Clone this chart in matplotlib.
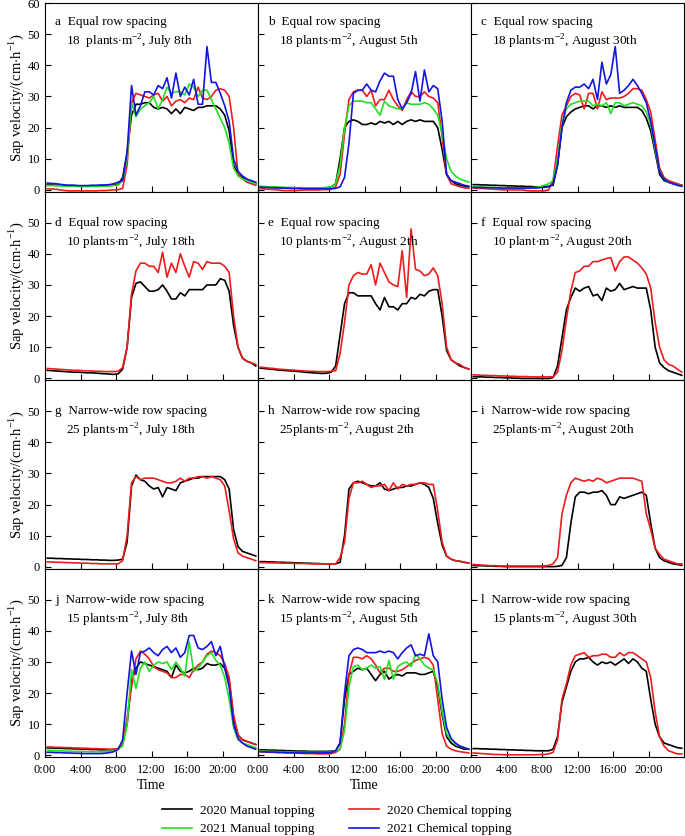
""" Diurnal sap velocity under manual and chemical topping, 12 panels. """

import matplotlib
matplotlib.use('Agg')
import matplotlib.pyplot as plt
import numpy as np
from matplotlib.lines import Line2D

plt.rcParams['font.family'] = ['Liberation Serif', 'DejaVu Serif']
plt.rcParams['mathtext.fontset'] = 'custom'
plt.rcParams['mathtext.rm'] = 'Liberation Serif'

# half-hourly means, 0:15 ... 23:45
hours = np.arange(0.25, 24, 0.5)

# ---- a: equal row spacing, 18 plants, July 8th
a_black = [1.6,1.6,1.5,1.5,1.4,1.4,1.4,1.3,1.3,1.3,1.3,1.3,1.3,1.4,1.5,1.6,
           1.8,4,12,24,27.5,27.5,28,28,26.5,26,26.5,26,24.5,26,24.5,26.5,
           26,25.5,26.5,26.5,27,27,27,26,24,19,8,5,4,3,2.5,2]
a_red = [0.4,0.3,0.2,0.0,-0.2,-0.3,-0.3,-0.3,-0.3,-0.3,-0.3,-0.3,-0.2,-0.2,-0.1,0.0,
         0.1,0.5,8,28,31,30.5,30,29.5,30.5,31,28.5,30,27,28.5,29,28,
         29.5,29,33,29.5,29,30,32,32.5,32,30,20,5,3.5,2.5,2,1.5]
a_green = [1.4,1.4,1.3,1.3,1.2,1.2,1.2,1.1,1.1,1.1,1.1,1.1,1.2,1.2,1.3,1.4,
           1.6,3,10,28,23.5,26,27,28,30,26,29,33,31,31.5,31.5,30.5,
           34,33,30,32,32,29,26,23,20,15,7,4.5,3.5,3,2.5,2]
a_blue = [2.2,2.1,2.0,1.8,1.6,1.5,1.5,1.4,1.4,1.4,1.5,1.5,1.6,1.6,1.7,2.0,
          2.5,3,12,33.5,24,27,31.5,31.5,30.5,33.5,32.5,36,29.5,37.5,30,33,
          30.5,35.5,27.5,27.5,46,34.5,34.5,31,27,22,10,6,4.5,3.5,3,2.5]

# ---- b: equal row spacing, 18 plants, August 5th
b_black = [0.9,0.9,0.8,0.8,0.7,0.7,0.6,0.6,0.6,0.5,0.5,0.5,0.5,0.5,0.6,0.7,
           1,2,10,20,22,22.5,22,21,21,21.5,21,22,21.5,22,21,22,
           21,22,22.5,22,22.5,22,22,22,20,13,5,3,2,1.5,1.2,1]
b_red = [0.4,0.3,0.2,0.1,0,-0.2,-0.2,-0.2,-0.2,-0.1,0,0,0,0,0.1,0.1,
         0.2,1,5,18,29,31.5,32,32,30,32,27,29,29,32,29,27,
         25.5,29,31.5,30,30,31.5,30,29.5,28,17,5,2,1.5,1,0.7,0.5]
b_green = [1.2,1.1,1.0,1.0,0.9,0.9,0.8,0.8,0.7,0.7,0.7,0.6,0.6,0.6,0.7,0.8,
           1,2,8,20,27,28.5,28.5,28.5,28,28,26,24,28.5,27,26.5,26,
           26,28,27.5,27.5,27.5,28,27.5,26,24,18,10,6,4.5,3.5,3,2.5]
b_blue = [0.9,0.8,0.8,0.7,0.7,0.6,0.6,0.5,0.5,0.5,0.4,0.4,0.4,0.4,0.4,0.4,
          0.4,0.5,1,4,15,31,32,32,34,32,31.5,35,37.5,36.5,36.5,29,
          26,28,31,38,28.5,38.5,31.5,33.5,32.5,22,5,3,2.5,2,1.5,1.2]

# ---- c: equal row spacing, 18 plants, August 30th
c_black = [1.7,1.7,1.6,1.6,1.5,1.5,1.4,1.4,1.3,1.3,1.2,1.2,1.1,1.1,1.0,1.0,
           1.0,1.2,1.5,8,20,23.5,25,26,26.5,27,27,26,27,27,26.5,27,
           26.5,27,26.5,26.5,26.5,26.5,25.5,23,19,12,5,3,2.5,2,1.8,1.5]
c_red = [0.6,0.5,0.5,0.4,0.3,0.2,0.1,0,0,0,0,0,-0.2,-0.3,-0.3,-0.3,
         -0.3,0,3,14,24,27,30,31,30.5,26,31,31,26,31.5,29,29.5,
         29.5,29.5,30,31,32.5,32.5,32,29,25,16,7,4,3,2.5,2,1.5]
c_green = [1.0,1.0,0.9,0.9,0.8,0.8,0.7,0.7,0.6,0.6,0.6,0.6,0.6,0.7,0.8,1.0,
           1.5,2,3,10,21,26,27.5,28,28.5,28.5,28.5,27,27.5,27,28,24.5,
           28,28,27,27.5,28,27.5,27,25,21,13,6,3.5,2.5,2,1.5,1.2]
c_blue = [0.8,0.8,0.8,0.7,0.7,0.7,0.6,0.6,0.6,0.6,0.6,0.6,0.6,0.6,0.6,0.7,
          0.8,1,2,8,20,28,32,33,33,34,32.5,35.5,29,41,34,37,
          46,31,32,33.5,35.5,33.5,31,28,22,14,6,3.5,2.5,2,1.5,1.2]

# ---- d: equal row spacing, 10 plants, July 18th
d_black = [2.6,2.5,2.4,2.3,2.2,2.1,2.0,2.0,1.9,1.8,1.8,1.7,1.6,1.5,1.4,1.3,
           1.5,3,10,26,30.5,31,29.5,28,28,28.5,30,28,25.5,25.5,27.5,26.5,
           28.5,28.5,28.5,28.5,30,30,30,32,31.5,28,17,10,6.5,5.5,5,4]
d_red = [3.2,3.1,3.0,2.9,2.8,2.7,2.6,2.6,2.5,2.4,2.4,2.3,2.3,2.2,2.2,2.2,
         2.3,3.5,10,27,34.5,37,37,36,36,34,40.5,32.5,37,34,40,36,
         32.5,37.5,37,35,37.5,37,37,37,36,34,20,10,6.5,5.5,5,4.5]

# ---- e: equal row spacing, 10 plants, August 2th
e_black = [3.3,3.2,3.0,2.9,2.7,2.6,2.5,2.4,2.3,2.2,2.0,1.9,1.8,1.7,1.6,1.7,
           2,4,14,24,27.5,27.5,26.5,26.5,26.5,26.5,24,22,26,23,23,22,
           24,24,26,25.5,27,26.5,28,28.5,28.5,20,9,6,5,4,3.5,3]
e_red = [3.6,3.5,3.3,3.2,3.0,2.9,2.8,2.7,2.6,2.5,2.4,2.3,2.3,2.2,2.2,2.2,
         2.3,2.5,8,18,30,33,34,33.5,33.5,36.5,30,37,34,31,30,29.5,
         41,26,48,35,34.5,33,33.5,35.5,33,24,10,6,5,4.5,3.5,3]

# ---- f: equal row spacing, 10 plants, August 20th
f_black = [0.6,0.5,0.5,0.4,0.4,0.3,0.3,0.2,0.2,0.1,0.1,0,0,0,0,0,
           0,0,0.3,4,13,22,26,29,28,29,29.5,26.5,27,25,29,28,
           28.5,30.5,28.5,29,29.5,29,29,29,22,10,5,3.5,2.5,2,1.5,1]
f_red = [1.2,1.1,1.0,1.0,0.9,0.9,0.8,0.8,0.7,0.7,0.6,0.6,0.6,0.5,0.5,0.5,
         0.5,0.5,0.5,2,9,19,28,34,34.5,36,36,37.5,37.5,38,38.5,38.8,
         34.5,37.5,39,39,38,37,35.5,33.5,29,18,10,6,4.5,4,3,2]

# ---- g: narrow-wide row spacing, 25 plants, July 18th
g_black = [2.8,2.8,2.7,2.7,2.6,2.6,2.5,2.5,2.4,2.4,2.3,2.3,2.2,2.2,2.1,2.1,
           2.2,2.5,8,26,29.5,28,27.5,26,25,25.5,22.5,25.5,25,24.5,27,27.5,
           28,28.5,28.5,29,29,29,29,29,28,25,12,6.5,5,4.5,4,3.5]
g_red = [1.6,1.6,1.5,1.5,1.4,1.4,1.3,1.3,1.2,1.2,1.1,1.1,1.0,1.0,1.0,1.0,
         1.0,2,10,27,29,28,28.5,28.5,28.5,28,27.5,27,27,27.5,28.5,27.5,
         28.5,28.5,29,29,28.5,29,28.5,28,26,18,9,4.5,3.5,3,2.5,2]

# ---- h: narrow-wide row spacing, 25 plants, August 2th
h_black = [1.7,1.7,1.6,1.6,1.5,1.5,1.4,1.4,1.3,1.3,1.2,1.2,1.1,1.1,1.0,1.0,
           1,1,1.5,10,25,27,27.5,27,26.5,26,26,27,25,24.5,25,25.5,
           25.5,26,26,26.5,27,26.5,25.5,22,14,7,3.5,2.5,2,1.8,1.5,1.2]
h_red = [1.4,1.4,1.3,1.3,1.3,1.2,1.2,1.2,1.1,1.1,1.1,1.0,1.0,1.0,1.0,1.0,
         1,1,3,8,22,27,27,27.5,26.5,25.5,26,26,26.5,24.5,27,25,
         26.5,26,26.5,26.5,27,27,26.5,26.5,18,8,3.5,2.5,2,1.8,1.5,1.2]

# ---- i: narrow-wide row spacing, 25 plants, August 20th
i_black = [0.5,0.4,0.4,0.3,0.3,0.2,0.2,0.1,0.1,0.1,0.1,0.1,0.1,0.1,0.1,0.1,
           0.1,0.1,0.1,0.2,0.5,3,14,22.5,24,24,23.5,24,24,24.5,23,20,
           20,22.5,22,22.5,23,23.5,24,23,14,6,3,2,1.5,1,0.8,0.5]
i_red = [0.8,0.7,0.6,0.5,0.4,0.4,0.3,0.3,0.3,0.3,0.3,0.3,0.3,0.3,0.3,0.3,
         0.3,0.5,1,3,17,23,27,28.5,28,27.5,28,27.5,28.5,28,27,27.5,
         28,28.5,28.5,28.5,28.5,28,27.5,17,12,6,4,2.5,2,1.5,1,1]

# ---- j: narrow-wide row spacing, 15 plants, July 8th
j_black = [2.4,2.4,2.3,2.3,2.2,2.2,2.1,2.1,2.0,2.0,1.9,1.9,1.8,1.8,1.8,1.9,
           2.2,4,10,24,28,30,29.5,29,28.5,28,27.5,27,25,29,27,26.5,
           27,28,27.5,28,29.5,29,29,29.5,28,24,12,6.5,5,4.5,4,3.5]
j_red = [2.7,2.7,2.6,2.6,2.5,2.5,2.4,2.4,2.3,2.3,2.2,2.2,2.1,2.1,2.0,2.0,
         2.2,4,12,22,31,33.5,32.5,31,28.5,27.5,27,26.5,25,25,26,26,
         25,27.5,29,30,32.5,33.5,33,32,29.5,25,13,6.5,5,4.5,4,3.5]
j_green = [1.6,1.6,1.5,1.5,1.4,1.4,1.3,1.3,1.3,1.2,1.2,1.2,1.2,1.2,1.3,1.4,
           2,3,10,27.5,21.5,28,30,27,29,30,29.5,30,27.5,30,28,25.5,
           36.5,27,28,30,32,33,30.5,29,25,18,9,5,4,3.5,3,2.5]
j_blue = [1.0,1.0,0.9,0.9,0.8,0.8,0.7,0.7,0.6,0.6,0.6,0.6,0.6,0.7,0.9,1.2,
          2,5,20,33.5,26,33,33.5,34.5,33,32,34,35,33,34.5,31.5,33,
          38.5,38.5,34.5,34,35,36.5,32,35,28,22,10,5.5,4,3,2.5,2]

# ---- k: narrow-wide row spacing, 15 plants, August 5th
k_black = [1.8,1.8,1.7,1.7,1.6,1.6,1.5,1.5,1.4,1.4,1.4,1.3,1.3,1.3,1.3,1.3,
           1.4,1.5,4,18,26,27,28,27.5,28,26,24,26,27,24.5,25.5,26,
           25.5,26.5,26.5,26.5,26,26,26.5,27,22,13,6,4,3,2.5,2,2]
k_red = [1.2,1.1,1.0,1.0,0.9,0.9,0.8,0.8,0.7,0.7,0.6,0.6,0.6,0.5,0.5,0.5,
         0.6,1,2,10,26,31.5,31.5,31,32,31,29,26.5,28,28,27,27,
         27.5,28.5,29.5,30.5,31,31.5,31,29,18,7,3,2,1.5,1.2,1,0.8]
k_green = [1.4,1.4,1.3,1.3,1.2,1.2,1.1,1.1,1.0,1.0,1.0,1.0,1.0,1.0,1.0,1.0,
           1.2,1.5,2,8,22,28.5,29,27.5,28,29,28,28.5,24.5,30.5,24.5,28.5,
           29.5,30,28.5,32.5,31,29,28,27.5,23,14,7,5,3.5,3,2.5,2]
k_blue = [1.2,1.2,1.1,1.1,1.0,1.0,0.9,0.9,0.9,0.8,0.8,0.8,0.8,0.8,0.8,0.9,
          1,1.5,4,20,32,34,34.5,34,33,33,33,33.5,33,33.5,33,31,
          33,34.5,35.5,32,32.5,32,39,32,30,18,9,5.5,4,3,2.5,2]

# ---- l: narrow-wide row spacing, 15 plants, August 30th
l_black = [2.2,2.2,2.1,2.1,2.0,2.0,1.9,1.9,1.8,1.8,1.7,1.7,1.6,1.6,1.5,1.5,
           1.5,1.5,2,6,17,22,27,30,31,31,31.5,30,29,30,29.5,30,
           29,30,31,29.5,31,30,28,27,18,10,6,4,3.5,3,2.5,2.3]
l_red = [0.8,0.7,0.6,0.5,0.4,0.3,0.3,0.2,0.2,0.2,0.2,0.2,0.2,0.2,0.2,0.3,
         0.3,0.5,1,5,18,23,29,32,32.5,33,31.5,32,32,32.5,32.5,31.5,
         31.5,33,32,33,33,32,31,30,25,14,6,3,1.5,1,0.5,0.5]

titles = [
    ('a  Equal row spacing', '18  plants$\\cdot$m$^{-2}$, July 8th'),
    ('b  Equal row spacing', '18 plants$\\cdot$m$^{-2}$, August 5th'),
    ('c  Equal row spacing', '18 plants$\\cdot$m$^{-2}$, August 30th'),
    ('d  Equal row spacing', '10 plants$\\cdot$m$^{-2}$, July 18th'),
    ('e  Equal row spacing', '10 plants$\\cdot$m$^{-2}$, August 2th'),
    ('f  Equal row spacing', '10 plant$\\cdot$m$^{-2}$, August 20th'),
    ('g  Narrow-wide row spacing', '25 plants$\\cdot$m$^{-2}$, July 18th'),
    ('h  Narrow-wide row spacing', '25plants$\\cdot$m$^{-2}$, August 2th'),
    ('i  Narrow-wide row spacing', '25plants$\\cdot$m$^{-2}$, August 20th'),
    ('j  Narrow-wide row spacing', '15 plants$\\cdot$m$^{-2}$, July 8th'),
    ('k  Narrow-wide row spacing', '15 plants$\\cdot$m$^{-2}$, August 5th'),
    ('l  Narrow-wide row spacing', '15 plants$\\cdot$m$^{-2}$, August 30th'),
]

# series per panel: (black, red, green, blue); None if not measured
series = [
    (a_black, a_red, a_green, a_blue),
    (b_black, b_red, b_green, b_blue),
    (c_black, c_red, c_green, c_blue),
    (d_black, d_red, None, None),
    (e_black, e_red, None, None),
    (f_black, f_red, None, None),
    (g_black, g_red, None, None),
    (h_black, h_red, None, None),
    (i_black, i_red, None, None),
    (j_black, j_red, j_green, j_blue),
    (k_black, k_red, k_green, k_blue),
    (l_black, l_red, None, None),
]

labels = ['2020 Manual topping', '2020 Chemical topping',
          '2021 Manual topping', '2021 Chemical topping']
colors = ['#000000', '#ee1c1c', '#22e022', '#1414e0']
xticks = [0, 4, 8, 12, 16, 20]
xticklabels = ['0:00', '4:00', '8:00', '12:00', '16:00', '20:00']

W, H = 685, 836
fig = plt.figure(figsize=(W / 100, H / 100), dpi=100)

ax_w = 213 / W
ax_h = 188.5 / H
x0 = 45 / W
y0 = (H - 757) / H

for i, (lines, (t1, t2)) in enumerate(zip(series, titles)):
    r, c = divmod(i, 3)
    ax = fig.add_axes([x0 + c * ax_w, y0 + (3 - r) * ax_h, ax_w, ax_h])
    for vals, col in zip(lines, colors):
        if vals is not None:
            ax.plot(hours, vals, color=col, lw=1.2)
    ax.set_xlim(0, 24)
    ax.set_ylim(-0.5, 60)
    ax.set_xticks(xticks)
    ax.tick_params(direction='in', length=4, width=0.8, labelsize=9)
    ax.tick_params(axis='x', pad=5)
    if r == 3:
        ax.set_xticklabels(xticklabels)
    else:
        ax.set_xticklabels([])
    if r == 0:
        ax.set_yticks([0, 10, 20, 30, 40, 50, 60])
    else:
        ax.set_yticks([0, 10, 20, 30, 40, 50])
    if c == 0:
        ax.set_ylabel('Sap velocity/(cm$\\cdot$h$^{-1}$)', fontsize=10.5, labelpad=1)
    else:
        ax.set_yticklabels([])
    if r == 3 and c < 2:
        ax.set_xlabel('Time', fontsize=10, labelpad=2)
    for sp in ax.spines.values():
        sp.set_linewidth(0.8)

    # panel captions
    top1 = 19 if r == 0 else 31
    ax.text(10 / 213, 1 - top1 / 188.5, t1, transform=ax.transAxes,
            fontsize=9.5, va='center', ha='left')
    ax.text(21 / 213, 1 - (top1 + 20) / 188.5, t2, transform=ax.transAxes,
            fontsize=9.5, va='center', ha='left')

handles = [Line2D([], [], color=col, lw=1.2) for col in colors]
order = [0, 2, 1, 3]
fig.legend([handles[k] for k in order], [labels[k] for k in order],
           ncol=2, loc='center', bbox_to_anchor=(0.492, 1 - 820 / H),
           frameon=False, fontsize=9.5, handlelength=2.3, columnspacing=2.6,
           labelspacing=0.45, handletextpad=0.6)

fig.savefig('out.png', dpi=100)
